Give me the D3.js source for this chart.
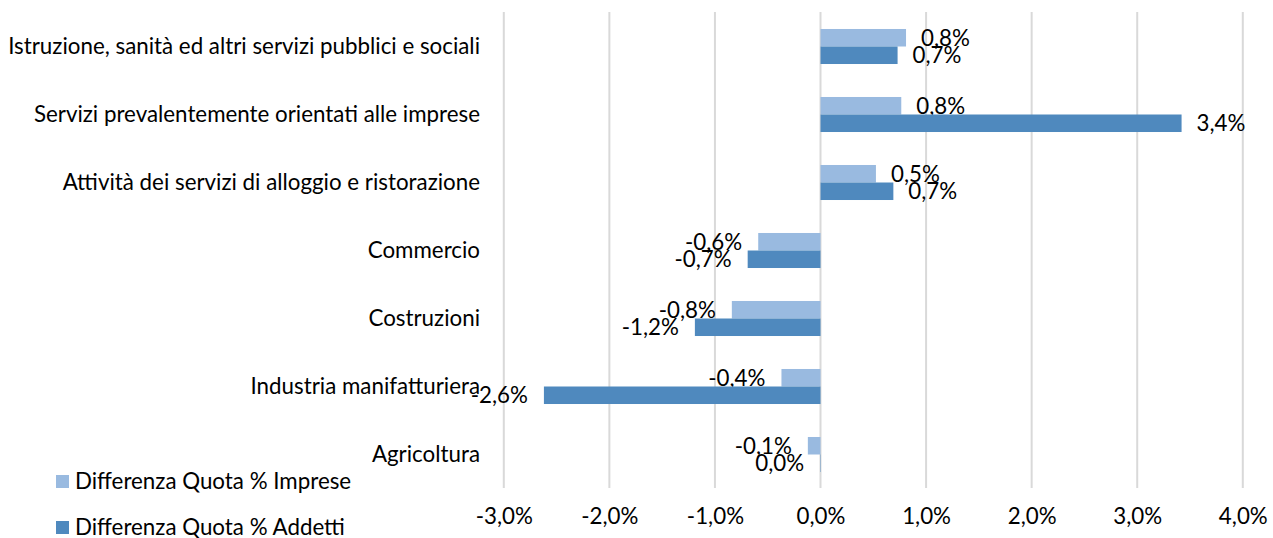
<!DOCTYPE html>
<html><head><meta charset="utf-8">
<script src="https://cdn.jsdelivr.net/npm/d3@7"></script>
<style>body{margin:0;background:#fff;} svg{display:block;}</style>
</head><body>
<svg id="c" width="1273" height="538"></svg>
<script>
const categories = [
  "Istruzione, sanità ed altri servizi pubblici e sociali",
  "Servizi prevalentemente orientati alle imprese",
  "Attività dei servizi di alloggio e ristorazione",
  "Commercio",
  "Costruzioni",
  "Industria manifatturiera",
  "Agricoltura"
];
const seriesNames = ["Differenza Quota % Imprese", "Differenza Quota % Addetti"];
const imprese = [0.81, 0.765, 0.525, -0.59, -0.84, -0.37, -0.12];
const addetti = [0.73, 3.42, 0.69, -0.69, -1.19, -2.62, -0.004];
const xTicks = [-3, -2, -1, 0, 1, 2, 3, 4];
const colors = ["#99BAE0", "#4F89BE"];
const FONT = "Lato, 'Open Sans', sans-serif";

const svg = d3.select("#c");
const x = d3.scaleLinear().domain([-3, 4]).range([503.8, 1242.8]);
const y = d3.scaleBand().domain(categories).range([12.5, 488.5]).paddingInner(0.485).paddingOuter(0.2425);
const sub = d3.scaleBand().domain([0, 1]).range([0, y.bandwidth()]);

// determine font size to match reference label width
const probe = svg.append("text").attr("font-family", FONT).attr("font-size", 18).text(categories[0]);
const w = probe.node().getComputedTextLength();
probe.remove();
const fs = 18 * 472 / w;

const fmt = v => {
  const r = Math.round(v * 10) / 10;
  const s = (Math.abs(r) < 1e-9 ? 0 : r).toFixed(1).replace(".", ",");
  return s + "%";
};

// gridlines
svg.append("g").selectAll("line").data(xTicks).join("line")
  .attr("x1", d => x(d)).attr("x2", d => x(d))
  .attr("y1", 12).attr("y2", 488)
  .attr("stroke", "#D9D9D9").attr("stroke-width", 2);

// axis labels
const xAxis = d3.axisBottom(x).tickValues(xTicks).tickSize(0).tickPadding(0)
  .tickFormat(d => d.toFixed(1).replace(".", ",") + "%");
const gx = svg.append("g").attr("transform", "translate(0,508)").call(xAxis);
gx.select(".domain").remove();
gx.selectAll("text").attr("font-family", FONT).attr("font-size", fs).attr("fill", "#000").attr("dy", "0.71em");

// category labels
const yAxis = d3.axisLeft(y).tickSize(0).tickPadding(0);
const gy = svg.append("g").attr("transform", "translate(480,0)").call(yAxis);
gy.select(".domain").remove();
gy.selectAll("text").attr("font-family", FONT).attr("font-size", fs).attr("fill", "#000");

const data = [imprese, addetti];
data.forEach((vals, si) => {
  const g = svg.append("g");
  g.selectAll("rect").data(vals).join("rect")
    .attr("x", d => x(Math.min(0, d)))
    .attr("width", d => Math.abs(x(d) - x(0)))
    .attr("y", (d, i) => y(categories[i]) + sub(si))
    .attr("height", sub.bandwidth())
    .attr("fill", colors[si]);
  g.selectAll("text").data(vals).join("text")
    .attr("x", d => d >= 0 ? x(d) + 15 : x(d) - 16)
    .attr("y", (d, i) => y(categories[i]) + sub(si) + sub.bandwidth() / 2)
    .attr("dy", "0.35em")
    .attr("text-anchor", d => d >= 0 ? "start" : "end")
    .attr("font-family", FONT).attr("font-size", fs).attr("fill", "#000")
    .text(d => fmt(d));
});

// legend
const lg = svg.append("g");
const legY = [481.5, 527.5];
seriesNames.forEach((n, i) => {
  lg.append("rect").attr("x", 56).attr("y", legY[i] - 6.5).attr("width", 13).attr("height", 13).attr("fill", colors[i]);
  lg.append("text").attr("x", 75).attr("y", legY[i]).attr("dy", "0.35em")
    .attr("font-family", FONT).attr("font-size", fs).attr("fill", "#000").text(n);
});
</script>
</body></html>
